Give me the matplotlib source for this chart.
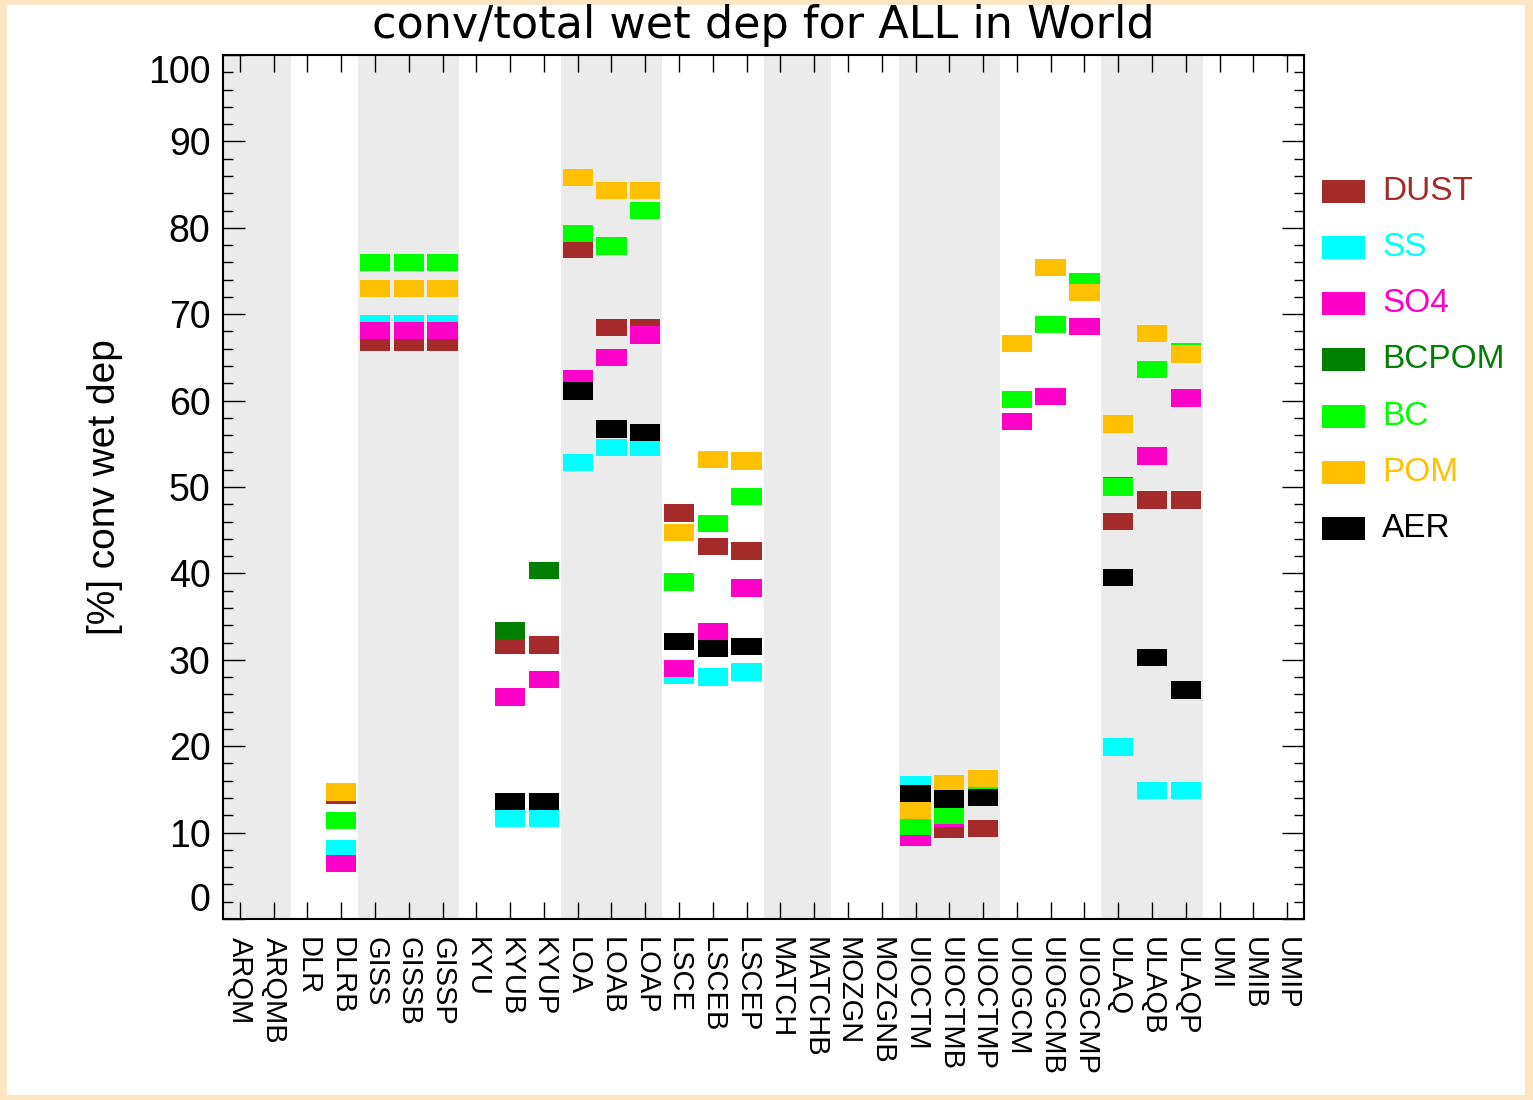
import numpy as np
import matplotlib.pyplot as plt
from matplotlib.patches import Rectangle
from matplotlib.ticker import MultipleLocator

N = np.nan

models = ['ARQM', 'ARQMB', 'DLR', 'DLRB', 'GISS', 'GISSB', 'GISSP', 'KYU', 'KYUB', 'KYUP',
          'LOA', 'LOAB', 'LOAP', 'LSCE', 'LSCEB', 'LSCEP', 'MATCH', 'MATCHB', 'MOZGN', 'MOZGNB',
          'UIOCTM', 'UIOCTMB', 'UIOCTMP', 'UIOGCM', 'UIOGCMB', 'UIOGCMP', 'ULAQ', 'ULAQB', 'ULAQP',
          'UMI', 'UMIB', 'UMIP']
# models per family (ARQM, DLR, GISS, KYU, LOA, LSCE, MATCH, MOZGN, UIOCTM, UIOGCM, ULAQ, UMI)
group_sizes = [2, 2, 3, 3, 3, 3, 2, 2, 3, 3, 3, 3]

# [%] convective / total wet deposition, one value per model
dust = [N, N, N, 14.3, 66.7, 66.7, 66.7, N, 31.7, 31.7,
        77.5, 68.5, 68.4, 47.0, 43.1, 42.6, N, N, N, N,
        N, 10.4, 10.5, N, N, N, 46.0, 48.5, 48.5, N, N, N]
ss = [N, N, N, 8.1, 68.9, 68.9, 68.9, N, 11.7, 11.7,
      52.8, 54.6, 54.6, 28.2, 28.0, 28.6, N, N, N, N,
      15.6, N, N, N, N, N, 19.9, 14.9, 14.9, N, N, N]
so4 = [N, N, N, 6.4, 68.1, 68.1, 68.1, N, 25.7, 27.7,
       62.5, 65.0, 67.6, 29.0, 33.3, 38.3, N, N, N, N,
       9.5, 11.6, N, 57.6, 60.5, 68.6, 50.2, 53.6, 60.3, N, N, N]
bcpom = [N, N, N, N, N, N, N, N, 33.4, 40.3,
         N, N, N, N, N, N, N, N, N, N,
         N, N, N, N, N, N, N, N, N, N, N, N]
bc = [N, N, N, 11.4, 76.0, 76.0, 76.0, N, N, N,
      79.3, 77.9, 82.0, 39.0, 45.8, 48.9, N, N, N, N,
      10.7, 12.0, 16.0, 60.1, 68.8, 73.8, 50.0, 63.6, 65.7, N, N, N]
pom = [N, N, N, 14.7, 73.0, 73.0, 73.0, N, N, N,
       85.8, 84.3, 84.3, 44.7, 53.2, 53.0, N, N, N, N,
       12.6, 15.7, 16.3, 66.6, 75.4, 72.5, 57.3, 67.8, 65.4, N, N, N]
aer = [N, N, N, N, N, N, N, N, 13.6, 13.6,
       61.1, 56.7, 56.3, 32.1, 31.3, 31.5, N, N, N, N,
       14.5, 13.9, 14.1, N, N, N, 39.5, 30.3, 26.5, N, N, N]

species = ['DUST', 'SS', 'SO4', 'BCPOM', 'BC', 'POM', 'AER']
colors = ['#a52a2a', '#00ffff', '#ff00c8', '#008000', '#00ff00', '#ffc000', '#000000']
series = [dust, ss, so4, bcpom, bc, pom, aer]

W, H = 1533, 1100
fig = plt.figure(figsize=(W / 100, H / 100), dpi=100)
fig.patch.set_facecolor('#fce6c2')
fig.add_artist(Rectangle((7 / W, 5 / H), (1525 - 7) / W, (1095 - 5) / H,
                         transform=fig.transFigure, facecolor='white', edgecolor='none', zorder=0))

ax = fig.add_axes([223 / W, 1 - 919 / H, (1304 - 223) / W, (919 - 55) / H])
ax.set_facecolor('white')
x = np.arange(len(models))

# shade every other model family
start = 0
for i, n in enumerate(group_sizes):
    if i % 2 == 0:
        ax.axvspan(start - 0.5, start + n - 0.5, color='#ebebeb', lw=0, zorder=0)
    start += n

# each value is a box two units tall centred on the value
for k, (vals, c) in enumerate(zip(series, colors)):
    v = np.array(vals, dtype=float)
    ok = ~np.isnan(v)
    ax.bar(x[ok], 2.0, bottom=v[ok] - 1.0, width=0.9, color=c, lw=0, zorder=2 + k)

ax.set_xlim(-0.5, len(models) - 0.5)
ax.set_ylim(0, 100)

tick_font = 'Liberation Sans'
ax.set_xticks(x)
ax.set_xticklabels(models, rotation=-90, fontsize=21, family=tick_font, va='top', ha='center')
ax.set_yticks(np.arange(0, 101, 10))
ax.set_yticklabels([str(v) for v in range(0, 101, 10)], fontsize=27, family=tick_font)
ax.yaxis.set_minor_locator(MultipleLocator(2))
ax.tick_params(axis='x', direction='in', length=12, width=1.0, top=True, bottom=True, pad=13)
ax.tick_params(axis='y', which='major', direction='in', length=16, width=1.0,
               left=True, right=True, pad=9)
ax.tick_params(axis='y', which='minor', direction='in', length=7, width=1.0,
               left=True, right=True)
yt = ax.yaxis.get_major_ticks()
yt[0].label1.set_verticalalignment('bottom')
yt[-1].label1.set_verticalalignment('top')
for s in ax.spines.values():
    s.set_linewidth(1.5)
    s.set_zorder(20)

ax.set_ylabel('[%] conv wet dep', fontsize=28, family=tick_font, labelpad=18)
ax.set_title('conv/total wet dep for ALL in World', fontsize=32, family='DejaVu Sans', pad=12)

# legend: colour swatch and coloured name per species
for i, (name, c) in enumerate(zip(species, colors)):
    yc = 191.7 + 56.1 * i
    fig.add_artist(Rectangle((1322 / W, 1 - (yc + 11.5) / H), 43 / W, 23 / H,
                             transform=fig.transFigure, facecolor=c, edgecolor='none'))
    fig.text(1382 / W, 1 - yc / H, name, color=c, fontsize=24, family=tick_font,
             va='center', ha='left')

fig.savefig('out.png', dpi=100, facecolor=fig.get_facecolor())
